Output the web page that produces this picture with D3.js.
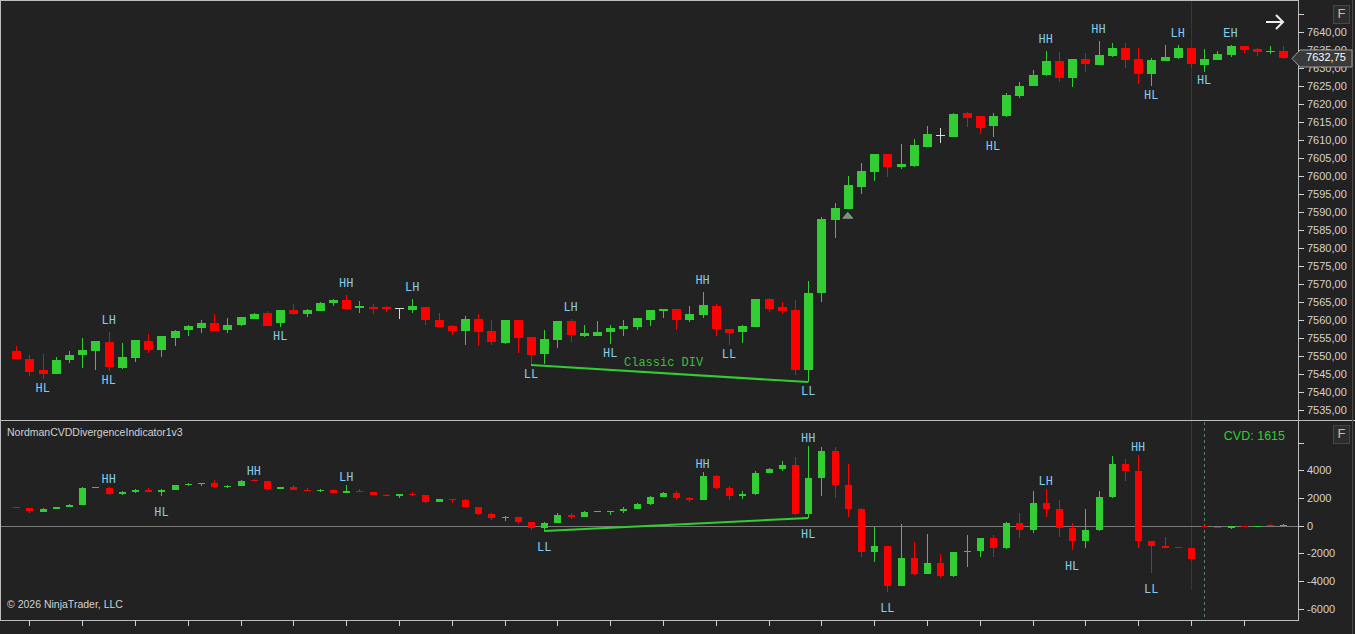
<!DOCTYPE html>
<html>
<head>
<meta charset="utf-8">
<title>NordmanCVDDivergenceIndicator1v3</title>
<script src="https://cdnjs.cloudflare.com/ajax/libs/d3/7.8.5/d3.min.js"></script>
<style>
    html, body { margin: 0; padding: 0; background: #222222; overflow: hidden; }
    svg { display: block; }
</style>
</head>
<body>
<div id="chart"></div>
<script>
// price bars (OHLC), one per bar index
var priceOpen = [7551.5, 7549.25, 7546, 7545.25, 7549, 7550.25, 7551.5, 7554, 7546.75, 7549.5,
    7554.25, 7551.75, 7555, 7557, 7558, 7559.25, 7557, 7558.5, 7560.5, 7562,
    7559, 7562.75, 7561.75, 7562.5, 7564.75, 7565.5, 7563.5, 7563.5, 7563.5, 7563.25,
    7563, 7563.5, 7560, 7558.25, 7557, 7560.25, 7557, 7553.5, 7560, 7555.25,
    7550.5, 7554.5, 7559.75, 7555.75, 7555.75, 7556.75, 7557.5, 7558, 7560, 7562.5,
    7563, 7560, 7561.5, 7564, 7557.5, 7556.5, 7558, 7565.75, 7563.5, 7562.75,
    7546.25, 7567.5, 7587.75, 7590.75, 7597, 7601, 7606, 7602.5, 7602.75, 7608.25,
    7611.5, 7611, 7617.5, 7616.75, 7614, 7616.75, 7622.25, 7625, 7628, 7632,
    7627.25, 7632.5, 7630.75, 7633.25, 7635.5, 7632.5, 7628.25, 7632, 7632.75, 7635.5,
    7630.75, 7632.25, 7633.5, 7636, 7635.25, 7634.5, 7634.75];
var priceHigh = [7552.75, 7550.25, 7550.5, 7549.75, 7551.5, 7555, 7554.25, 7556.75, 7553.5, 7554.5,
    7556, 7555.5, 7557.25, 7558.5, 7560, 7561.75, 7560.5, 7560.75, 7562, 7562.5,
    7562.75, 7564.5, 7563, 7565, 7565.75, 7567, 7565.25, 7564.5, 7564, 7563.25,
    7565.75, 7563.5, 7562, 7558.75, 7561, 7561.75, 7560, 7560, 7560, 7555.25,
    7557.25, 7559.75, 7560.25, 7558.5, 7559.75, 7558.5, 7560, 7560.5, 7562.75, 7563,
    7563, 7564, 7567.75, 7564.5, 7557.5, 7558.5, 7565.75, 7566, 7565, 7565.5,
    7570.75, 7588.5, 7592.5, 7600, 7603.5, 7606, 7606, 7609, 7610.25, 7614,
    7613.25, 7617.5, 7617.75, 7616.75, 7617.5, 7623, 7626, 7629.5, 7634.75, 7634.5,
    7632.5, 7634.25, 7637.5, 7637, 7637, 7635.5, 7632.75, 7636.5, 7636.5, 7635.5,
    7635.25, 7634.75, 7636.5, 7636, 7635.5, 7636, 7636];
var priceLow = [7549.25, 7544.5, 7543.5, 7545.25, 7548, 7546.75, 7546, 7545.75, 7546.5, 7548.25,
    7550.75, 7549.75, 7552.75, 7555.5, 7556.5, 7557, 7556.5, 7558.25, 7560.5, 7558.5,
    7558, 7561.5, 7560.75, 7562.5, 7564, 7563, 7562, 7561.75, 7562.25, 7560.25,
    7562, 7558.75, 7558, 7555.75, 7553, 7552.75, 7553, 7553.25, 7550.75, 7547.5,
    7547.75, 7552.25, 7554, 7555.25, 7555.5, 7553.25, 7555.5, 7557.25, 7558.25, 7560.5,
    7557.25, 7559.5, 7560.5, 7555.5, 7553, 7553.5, 7558, 7562.25, 7561.75, 7544.75,
    7542.75, 7565, 7582.75, 7590.75, 7595, 7598.5, 7599.75, 7602, 7602.5, 7608.25,
    7609.25, 7610.75, 7613.5, 7611.75, 7610.75, 7616.5, 7621.75, 7625, 7627.75, 7626,
    7624.75, 7629, 7630.75, 7633, 7630, 7625.5, 7625, 7632, 7632.5, 7630,
    7629, 7632.25, 7633, 7634.25, 7633.25, 7634, 7632.5];
var priceClose = [7549.25, 7545.75, 7545, 7549, 7550.25, 7551.75, 7554.25, 7547, 7549.75, 7554.5,
    7551.75, 7555.5, 7557, 7558.25, 7559.25, 7557, 7558.5, 7560.75, 7561.75, 7558.5,
    7562.75, 7561.75, 7562.75, 7564.75, 7565.5, 7563, 7564, 7563, 7563, 7563.25,
    7564, 7559.75, 7558, 7556.75, 7560.25, 7556.75, 7554, 7560, 7555, 7550.25,
    7554.75, 7559.75, 7555.75, 7556.5, 7556.75, 7557.75, 7558.25, 7560.5, 7562.75, 7563,
    7560, 7561.75, 7564.25, 7557.5, 7556.5, 7558.25, 7565.75, 7563, 7562.5, 7546,
    7567.5, 7588, 7591, 7597.5, 7601.5, 7606, 7602.5, 7603.25, 7608.5, 7611.75,
    7611.5, 7617.25, 7616, 7613.5, 7616.75, 7622.5, 7625, 7628, 7632, 7627.25,
    7632.5, 7631, 7633.5, 7635.5, 7632.25, 7628.25, 7632.25, 7633, 7635.5, 7631,
    7632.5, 7634, 7636, 7635, 7634.5, 7634.75, 7632.75];

// cumulative volume delta bars (OHLC)
var cvdOpen = [1340, 1260, 1010, 1210, 1350, 1500, 2730, 2730, 2290, 2460,
    2580, 2440, 2580, 2940, 3010, 3090, 2800, 2890, 3300, 3230,
    2650, 2800, 2600, 2510, 2600, 2390, 2530, 2460, 2240, 2170,
    2310, 2240, 1740, 1930, 1860, 1350, 850, 600, 630, 270,
    -170, 200, 770, 630, 1030, 1000, 1060, 1210, 1570, 2080,
    2360, 2000, 1860, 3590, 2730, 2150, 2290, 3810, 4100, 4390,
    850, 3450, 5400, 2940, 1210, -1920, -1480, -4370, -2350, -3510,
    -2710, -3650, -1920, -1840, -900, -1630, 200, -310, 1640, 1210,
    -170, -1110, -310, 2080, 4460, 3950, -1110, -1480, -1560, -1630,
    -40, -100, -200, 0, -20, 40, 0];
var cvdHigh = [1340, 1260, 1280, 1350, 1570, 2800, 2800, 2800, 2530, 2650,
    2730, 2650, 2940, 3090, 3090, 3300, 2940, 3300, 3360, 3230,
    2800, 2940, 2730, 2650, 2650, 2940, 2650, 2460, 2300, 2310,
    2460, 2240, 1950, 1930, 1930, 1350, 920, 700, 630, 270,
    270, 920, 920, 1060, 1060, 1060, 1350, 1640, 2150, 2440,
    2510, 2080, 3880, 3670, 2870, 2510, 3950, 4170, 4680, 4970,
    5760, 5690, 5690, 4460, 1280, -100, -1480, 120, -1190, -600,
    -2060, -1920, -700, -900, -690, 270, 920, 2510, 2650, 1860,
    200, 1210, 2510, 5040, 4820, 5110, -1110, -820, -1560, -1630,
    0, -100, 0, 0, 10, 100, 100];
var cvdLow = [1320, 940, 1010, 1210, 1350, 1500, 2730, 2220, 2220, 2360,
    2460, 2150, 2580, 2900, 2900, 2730, 2730, 2890, 3230, 2600,
    2650, 2580, 2510, 2450, 2390, 2390, 2460, 2240, 2170, 2030,
    2170, 1660, 1740, 1660, 1350, 770, 410, 340, 120, -310,
    -380, 200, 480, 630, 1030, 770, 920, 1210, 1500, 2080,
    1860, 1700, 1860, 2650, 1860, 1930, 2220, 3810, 3950, 770,
    560, 2150, 2000, 630, -2280, -2640, -4810, -4370, -3580, -3510,
    -3800, -3720, -2990, -2280, -2280, -1700, -890, -530, 630, -820,
    -1770, -1630, -380, 2000, 3230, -1630, -3440, -1630, -1600, -2570,
    -110, -150, -260, -80, -20, 0, 0];
var cvdClose = [1320, 1010, 1210, 1350, 1500, 2730, 2780, 2290, 2460, 2580,
    2460, 2580, 2940, 3010, 3060, 2800, 2870, 3230, 3230, 2650,
    2800, 2600, 2510, 2600, 2390, 2530, 2460, 2240, 2170, 2310,
    2240, 1740, 1950, 1860, 1350, 850, 560, 660, 270, -170,
    200, 770, 630, 990, 1060, 1060, 1210, 1570, 2080, 2360,
    2000, 1860, 3590, 2730, 2150, 2290, 3810, 4100, 4390, 850,
    3450, 5400, 2940, 1210, -1920, -1480, -4370, -2350, -3510, -2710,
    -3650, -1920, -1840, -900, -1630, 200, -310, 1640, 1210, -170,
    -1110, -310, 2080, 4460, 3950, -1110, -1480, -1630, -1600, -2420,
    -100, -130, -40, -60, 10, 0, 40];

// swing labels: [bar, text, side]
var pricePivots = [[2, "HL", "low"], [7, "LH", "high"], [7, "HL", "low"], [20, "HL", "low"],
    [25, "HH", "high"], [30, "LH", "high"], [39, "LL", "low"], [42, "LH", "high"],
    [45, "HL", "low"], [52, "HH", "high"], [54, "LL", "low"], [60, "LL", "low"],
    [74, "HL", "low"], [78, "HH", "high"], [82, "HH", "high"], [86, "HL", "low"],
    [88, "LH", "high"], [90, "HL", "low"], [92, "EH", "high"]];
var cvdPivots = [[7, "HH", "high"], [11, "HL", "low"], [18, "HH", "high"], [25, "LH", "high"],
    [40, "LL", "low"], [52, "HH", "high"], [60, "HH", "high"], [60, "HL", "low"],
    [66, "LL", "low"], [78, "LH", "high"], [80, "HL", "low"], [85, "HH", "high"],
    [86, "LL", "low"]];

// divergence: bars joined at their lows
var priceDivBars = [39, 60];
var cvdDivBars = [40, 60];

// axis ticks
var priceTicks = d3.range(7535, 7646, 5);
var cvdTicks = [-6000, -4000, -2000, 0, 2000, 4000, 6000];
var timeTicks = d3.range(1, 97, 4);

(function (window, d3) {
    "use strict";

    var W = 1355, H = 634,
        axisX = 1298,
        upTop = 0, upBottom = 420,
        lowBottom = 620,
        GREEN = "#32CD32", RED = "#FF0000", DOJI = "#d8d8d8",
        LABEL = "#87CEEB", FRAME = "#bdbdbd", TEXT = "#d2d2d2";

    var svg = d3.select("#chart").append("svg")
        .attr("width", W).attr("height", H)
        .style("background", "#222222");

    var x = d3.scaleLinear().domain([0, priceOpen.length - 1]).range([16.3, 1283.3]);
    var yPrice = d3.scaleLinear().domain([7535, 7640]).range([410, 32]);
    var yCvd = d3.scaleLinear().domain([-6000, 6000]).range([608.7, 442.7]);

    // 蜡烛
    function drawCandles(g, o, h, l, c, y, bodyW) {
        var idx = d3.range(o.length);
        function col(i) {
            return c[i] > o[i] ? GREEN : (c[i] < o[i] ? RED : DOJI);
        }
        g.selectAll(".wick").data(idx).enter().append("line")
            .attr("class", "wick")
            .attr("x1", function (i) { return Math.round(x(i)) + 0.5; })
            .attr("x2", function (i) { return Math.round(x(i)) + 0.5; })
            .attr("y1", function (i) { return y(h[i]); })
            .attr("y2", function (i) { return y(l[i]); })
            .attr("stroke", col).attr("stroke-width", 1)
            .attr("shape-rendering", "crispEdges");
        g.selectAll(".body").data(idx).enter().append("rect")
            .attr("class", "body")
            .attr("x", function (i) { return Math.round(x(i)) - (bodyW - 1) / 2; })
            .attr("width", bodyW)
            .attr("y", function (i) { return Math.round(y(Math.max(o[i], c[i]))); })
            .attr("height", function (i) { return Math.max(1, Math.round(Math.abs(y(o[i]) - y(c[i])))); })
            .attr("fill", col)
            .attr("shape-rendering", "crispEdges");
    }

    // 摆动标签
    function drawPivots(g, list, h, l, y, upOff, downOff) {
        g.selectAll(".pv").data(list).enter().append("text")
            .attr("class", "pv")
            .attr("x", function (d) { return x(d[0]); })
            .attr("y", function (d) { return d[2] === "high" ? y(h[d[0]]) - upOff : y(l[d[0]]) + downOff; })
            .attr("text-anchor", "middle")
            .attr("dominant-baseline", "middle")
            .attr("fill", LABEL)
            .style("font", "12px 'Liberation Mono', monospace")
            .text(function (d) { return d[1]; });
    }

    // session lines
    svg.append("line").attr("x1", Math.round(x(89)) + 0.5).attr("x2", Math.round(x(89)) + 0.5)
        .attr("y1", upTop).attr("y2", lowBottom - 30).attr("stroke", "#363636");
    svg.append("line").attr("x1", Math.round(x(90)) + 0.5).attr("x2", Math.round(x(90)) + 0.5)
        .attr("y1", upBottom + 2).attr("y2", lowBottom - 3)
        .attr("stroke", "#5f7d6c").attr("stroke-dasharray", "3,3");

    // zero line
    svg.append("line").attr("x1", 0).attr("x2", axisX)
        .attr("y1", Math.round(yCvd(0)) + 0.5).attr("y2", Math.round(yCvd(0)) + 0.5)
        .attr("stroke", "#7a7a7a");

    var gp = svg.append("g");
    drawCandles(gp, priceOpen, priceHigh, priceLow, priceClose, yPrice, 9);
    var gc = svg.append("g");
    drawCandles(gc, cvdOpen, cvdHigh, cvdLow, cvdClose, yCvd, 7);

    // divergence lines
    svg.append("line")
        .attr("x1", x(priceDivBars[0])).attr("y1", yPrice(priceLow[priceDivBars[0]]))
        .attr("x2", x(priceDivBars[1])).attr("y2", yPrice(priceLow[priceDivBars[1]]))
        .attr("stroke", GREEN).attr("stroke-width", 2);
    svg.append("text")
        .attr("x", (x(priceDivBars[0]) + x(priceDivBars[1])) / 2 - 6)
        .attr("y", (yPrice(priceLow[priceDivBars[0]]) + yPrice(priceLow[priceDivBars[1]])) / 2 - 11)
        .attr("text-anchor", "middle").attr("dominant-baseline", "middle")
        .attr("fill", "#3cbf3c")
        .style("font", "12px 'Liberation Mono', monospace")
        .text("Classic DIV");
    svg.append("line")
        .attr("x1", x(cvdDivBars[0])).attr("y1", yCvd(cvdLow[cvdDivBars[0]]))
        .attr("x2", x(cvdDivBars[1])).attr("y2", yCvd(cvdLow[cvdDivBars[1]]))
        .attr("stroke", GREEN).attr("stroke-width", 2);

    // signal triangle under bar 63
    var tx = x(63), ty = yPrice(priceLow[63]) + 3;
    svg.append("path")
        .attr("d", "M" + (tx - 5) + "," + (ty + 6) + "L" + tx + "," + ty + "L" + (tx + 5) + "," + (ty + 6) + "Z")
        .attr("fill", "#6f9a6f").attr("stroke", "#9a9a9a").attr("stroke-width", 0.8);

    drawPivots(svg.append("g"), pricePivots, priceHigh, priceLow, yPrice, 11, 9.5);
    drawPivots(svg.append("g"), cvdPivots, cvdHigh, cvdLow, yCvd, 7.5, 17);

    // frame
    var frame = svg.append("g").attr("stroke", FRAME).attr("shape-rendering", "crispEdges");
    frame.append("line").attr("x1", 0).attr("x2", axisX).attr("y1", 0.5).attr("y2", 0.5);
    frame.append("line").attr("x1", 0.5).attr("x2", 0.5).attr("y1", 0).attr("y2", lowBottom);
    frame.append("line").attr("x1", 0).attr("x2", W).attr("y1", upBottom + 0.5).attr("y2", upBottom + 0.5);
    frame.append("line").attr("x1", 0).attr("x2", axisX).attr("y1", lowBottom + 0.5).attr("y2", lowBottom + 0.5);
    frame.append("line").attr("x1", axisX + 0.5).attr("x2", axisX + 0.5).attr("y1", 0).attr("y2", lowBottom + 1);
    frame.append("line").attr("x1", 1352.5).attr("x2", 1352.5).attr("y1", 0).attr("y2", H).attr("stroke", "#4a4a4a");

    // axes
    function styleAxis(g) {
        g.select(".domain").remove();
        g.selectAll("line").attr("stroke", TEXT).attr("shape-rendering", "crispEdges");
        g.selectAll("text").attr("fill", TEXT)
            .style("font", "11px 'Liberation Sans', Arial, sans-serif");
    }
    svg.append("g").attr("transform", "translate(" + axisX + ",0)")
        .call(d3.axisRight(yPrice).tickValues(priceTicks).tickSize(6).tickPadding(3)
            .tickFormat(function (v) { return v === 7645 ? "" : d3.format(".2f")(v).replace(".", ","); }))
        .call(styleAxis);
    svg.append("g").attr("transform", "translate(" + axisX + ",0)")
        .call(d3.axisRight(yCvd).tickValues(cvdTicks).tickSize(6).tickPadding(3)
            .tickFormat(function (v) { return v === 6000 ? "" : String(v); }))
        .call(styleAxis);
    svg.append("g").attr("transform", "translate(0," + lowBottom + ")")
        .call(d3.axisBottom(x).tickValues(timeTicks).tickSize(6).tickFormat(""))
        .call(styleAxis);

    // last price marker
    var ly = Math.round(yPrice(priceClose[priceClose.length - 1])) + 0.5;
    svg.append("path")
        .attr("d", "M1292," + ly + "L1300," + (ly - 8.5) + "L1352," + (ly - 8.5) + "L1352," + (ly + 8.5) + "L1300," + (ly + 8.5) + "Z")
        .attr("fill", "#3a3a3a").attr("stroke", "#a0a0a0");
    svg.append("text").attr("x", 1326).attr("y", ly)
        .attr("text-anchor", "middle").attr("dominant-baseline", "middle")
        .attr("fill", "#ffffff").style("font", "11px 'Liberation Sans', Arial, sans-serif")
        .text(d3.format(".2f")(priceClose[priceClose.length - 1]).replace(".", ","));

    // F buttons
    [5, 425].forEach(function (top) {
        svg.append("rect").attr("x", 1333.5).attr("y", top + 0.5).attr("width", 16).attr("height", 18)
            .attr("fill", "#2c2c2c").attr("stroke", "#474747");
        svg.append("text").attr("x", 1341.5).attr("y", top + 10)
            .attr("text-anchor", "middle").attr("dominant-baseline", "middle")
            .attr("fill", "#e8b090").style("font", "13px 'Liberation Sans', Arial, sans-serif")
            .text("F");
    });

    // arrow top right
    svg.append("path").attr("d", "M1266,22H1283M1276,15L1283,22L1276,29")
        .attr("fill", "none").attr("stroke", "#eeeeee").attr("stroke-width", 2);

    // texts
    svg.append("text").attr("x", 7).attr("y", 433).attr("dominant-baseline", "middle")
        .attr("fill", TEXT).style("font", "10.5px 'Liberation Sans', Arial, sans-serif")
        .text("NordmanCVDDivergenceIndicator1v3");
    svg.append("text").attr("x", 7).attr("y", 605).attr("dominant-baseline", "middle")
        .attr("fill", TEXT).style("font", "10.5px 'Liberation Sans', Arial, sans-serif")
        .text("\u00A9 2026 NinjaTrader, LLC");
    svg.append("text").attr("x", 1285).attr("y", 437).attr("text-anchor", "end")
        .attr("dominant-baseline", "middle")
        .attr("fill", GREEN).style("font", "12.5px 'Liberation Sans', Arial, sans-serif")
        .text("CVD: 1615");
})(window, d3);
</script>
</body>
</html>
